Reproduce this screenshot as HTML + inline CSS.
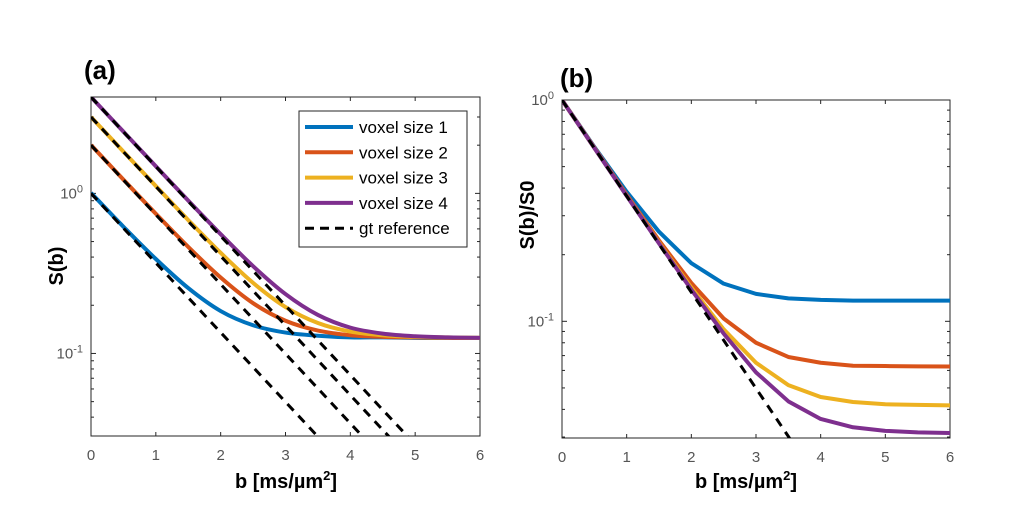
<!DOCTYPE html>
<html><head><meta charset="utf-8"><style>
html,body{margin:0;padding:0;background:#fff;width:1017px;height:529px;overflow:hidden;}
svg{display:block;font-family:"Liberation Sans",Arial,sans-serif;}
</style></head><body>
<svg id="fig" width="1017" height="529" viewBox="0 0 1017 529">
<defs>
<clipPath id="clipA"><rect x="91" y="97" width="389" height="339"/></clipPath>
<clipPath id="clipB"><rect x="562" y="100" width="388" height="338"/></clipPath>
</defs>
<g id="gA"></g>
<g id="gB"></g>
</svg>
<script>
const bValues=[0,0.5,1,1.5,2,2.5,3,3.5,4,4.5,5,5.5,6];
const xTicks=[0,1,2,3,4,5,6];
const seriesNames=["voxel size 1","voxel size 2","voxel size 3","voxel size 4"];
const colors=["#0072BD","#D95319","#EDB120","#7E2F8E"];
// panel a
const aBlue=[1.008,0.619,0.389,0.256,0.184,0.150,0.135,0.129,0.126,0.126,0.125,0.125,0.125];
const aOrange=[2.004,1.219,0.746,0.463,0.298,0.206,0.160,0.139,0.130,0.127,0.126,0.125,0.125];
const aYellow=[3.0,1.824,1.111,0.681,0.425,0.276,0.195,0.155,0.137,0.130,0.127,0.126,0.125];
const aPurple=[4.0,2.429,1.477,0.901,0.556,0.351,0.235,0.174,0.145,0.133,0.128,0.126,0.125];
const aRef1=[1,0.6065,0.3679,0.2231,0.1353,0.0821,0.0498,0.0302,0.0183,0.0111,0.0067,0.0041,0.0025];
const aRef2=[2,1.213,0.7358,0.4463,0.2707,0.1642,0.0996,0.0604,0.0366,0.0222,0.0135,0.0082,0.005];
const aRef3=[3,1.820,1.104,0.6694,0.4060,0.2463,0.1494,0.0906,0.0549,0.0333,0.0202,0.0123,0.0074];
const aRef4=[4,2.426,1.472,0.8925,0.5413,0.3283,0.1991,0.1208,0.0733,0.0444,0.0270,0.0163,0.0099];
// panel b
const bBlue=[1.0,0.614,0.385,0.254,0.183,0.148,0.133,0.127,0.125,0.124,0.124,0.124,0.124];
const bOrange=[1.0,0.610,0.373,0.232,0.149,0.103,0.080,0.069,0.065,0.063,0.0628,0.0626,0.0625];
const bYellow=[1.0,0.608,0.370,0.227,0.142,0.092,0.065,0.0515,0.0455,0.0432,0.0422,0.0419,0.0417];
const bPurple=[1.0,0.607,0.369,0.225,0.139,0.088,0.0588,0.0435,0.0362,0.0332,0.032,0.0315,0.0313];
const bRef=[1,0.6065,0.3679,0.2231,0.1353,0.0821,0.0498,0.0302,0.0183,0.0111,0.0067,0.0041,0.0025];

const NS="http://www.w3.org/2000/svg";
function mk(parent,tag,attrs,text){const e=document.createElementNS(NS,tag);for(const k in attrs)e.setAttribute(k,attrs[k]);if(text!==undefined)e.textContent=text;parent.appendChild(e);return e;}
function smoothPath(pts){
  let d="M"+pts[0][0]+","+pts[0][1];
  for(let i=0;i<pts.length-1;i++){
    const p0=pts[Math.max(0,i-1)],p1=pts[i],p2=pts[i+1],p3=pts[Math.min(pts.length-1,i+2)];
    const c1=[p1[0]+(p2[0]-p0[0])/6,p1[1]+(p2[1]-p0[1])/6];
    const c2=[p2[0]-(p3[0]-p1[0])/6,p2[1]-(p3[1]-p1[1])/6];
    d+=" C"+c1[0]+","+c1[1]+" "+c2[0]+","+c2[1]+" "+p2[0]+","+p2[1];
  }
  return d;
}

function panel(g,box,yDomain,series,refs,clip,tag,smooth){
  const [x0,y0,x1,y1]=box;
  const sx=b=>x0+(b-0)/(6-0)*(x1-x0);
  const lmin=Math.log10(yDomain[0]),lmax=Math.log10(yDomain[1]);
  const sy=v=>y1-(Math.log10(v)-lmin)/(lmax-lmin)*(y1-y0);
  const bg=mk(g,"rect",{x:x0,y:y0,width:x1-x0,height:y1-y0,fill:"#fff",stroke:"#262626","stroke-width":1});
  
  
  xTicks.forEach(t=>{
    mk(g,"line",{x1:sx(t),x2:sx(t),y1:y1,y2:y1-4,stroke:"#262626"});
    mk(g,"line",{x1:sx(t),x2:sx(t),y1:y0,y2:y0+4,stroke:"#262626"});
    const tl=mk(g,"text",{x:sx(t),y:y1+24,"text-anchor":"middle","font-size":15,fill:"#555"},String(t));
    
    
  });
  for(let d=-2;d<=0;d++){
    for(let m=1;m<10;m++){
      const v=m*Math.pow(10,d);
      if(v<yDomain[0]||v>yDomain[1])continue;
      const len=m===1?5:3;
      mk(g,"line",{x1:x0,x2:x0+len,y1:sy(v),y2:sy(v),stroke:"#262626"});
      mk(g,"line",{x1:x1,x2:x1-len,y1:sy(v),y2:sy(v),stroke:"#262626"});
      if(m===1){
        const tl=mk(g,"text",{x:x0-8,y:sy(v)+5,"text-anchor":"end","font-size":15,fill:"#555"});
        
        
        mk(tl,"tspan",{},"10");
        mk(tl,"tspan",{dy:-6,"font-size":11},String(d));
      }
    }
  }
  const cg=mk(g,"g",{"clip-path":"url(#"+clip+")"});
  series.forEach((s,i)=>{
    const pts=bValues.map((b,j)=>[sx(b),sy(s[j])]);
    let p;
    if(smooth) p=mk(cg,"path",{d:smoothPath(pts),fill:"none",stroke:colors[i],"stroke-width":4,"stroke-linejoin":"round"});
    else p=mk(cg,"polyline",{points:pts.map(q=>q.join(",")).join(" "),fill:"none",stroke:colors[i],"stroke-width":4,"stroke-linejoin":"round"});
    
    
  });
  refs.forEach((s,i)=>{
    const p=mk(cg,"polyline",{points:bValues.map((b,j)=>sx(b)+","+sy(s[j])).join(" "),fill:"none",stroke:"#000","stroke-width":3,"stroke-dasharray":"9,7"});
    
    
  });
}
const gA=document.getElementById("gA"),gB=document.getElementById("gB");
panel(gA,[91,97,480,436],[0.0305,4.0],[aBlue,aOrange,aYellow,aPurple],[aRef1,aRef2,aRef3,aRef4],"clipA","a",true);
panel(gB,[562,100,950,438],[0.0297,1.0],[bBlue,bOrange,bYellow,bPurple],[bRef],"clipB","b",false);

function label(g,attrs,txt,name){const t=mk(g,"text",attrs,txt);return t;}
label(gA,{x:84,y:79,"font-size":26,"font-weight":"bold"},"(a)","panel-a-label");
label(gB,{x:560,y:87,"font-size":26,"font-weight":"bold"},"(b)","panel-b-label");
[[gA,286],[gB,746]].forEach(([g,cx])=>{
  const t=label(g,{x:cx,y:488,"text-anchor":"middle","font-size":20,"font-weight":"bold"},"b [ms/µm","x-axis-title");
  mk(t,"tspan",{dy:-8,"font-size":13},"2");
  mk(t,"tspan",{dy:8},"]");
});
label(gA,{x:0,y:0,transform:"translate(63,266) rotate(-90)","text-anchor":"middle","font-size":20,"font-weight":"bold"},"S(b)","y-axis-title-a");
label(gB,{x:0,y:0,transform:"translate(534,215) rotate(-90)","text-anchor":"middle","font-size":20,"font-weight":"bold"},"S(b)/S0","y-axis-title-b");

const lg=mk(gA,"g",{});


mk(lg,"rect",{x:299,y:111,width:168,height:136,fill:"#fff",stroke:"#262626","stroke-width":1});
const entries=seriesNames.concat(["gt reference"]);
entries.forEach((n,i)=>{
  const y=127+i*25.3;
  const e=mk(lg,"g",{});
  
  
  if(i<4) mk(e,"line",{x1:305,x2:353,y1:y,y2:y,stroke:colors[i],"stroke-width":4});
  else mk(e,"line",{x1:305,x2:353,y1:y,y2:y,stroke:"#000","stroke-width":3,"stroke-dasharray":"9,6"});
  mk(e,"text",{x:359,y:y+6,"font-size":17,fill:"#000"},n);
});
</script>
</body></html>
